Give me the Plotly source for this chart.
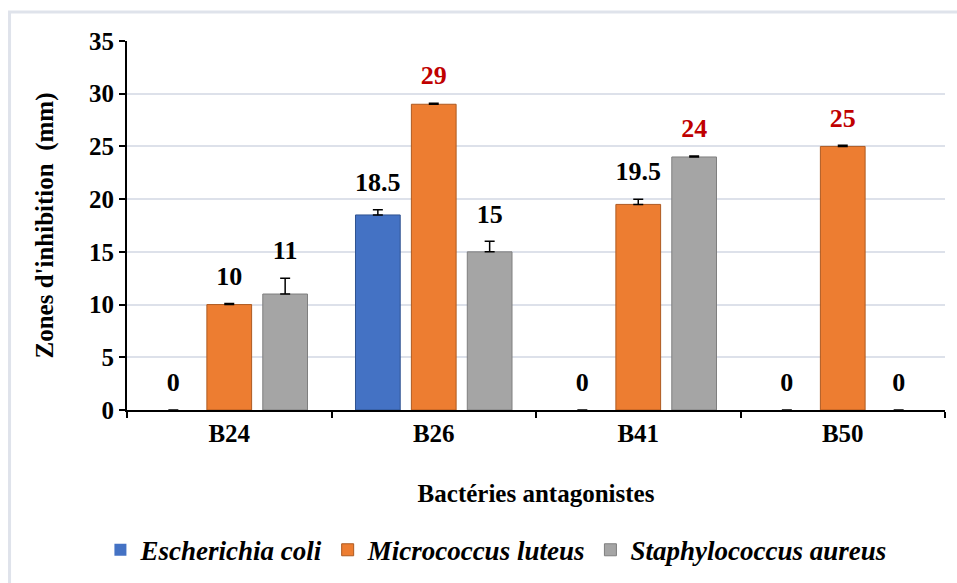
import plotly.graph_objects as go

categories = ["B24", "B26", "B41", "B50"]
series_names = ["Escherichia coli", "Micrococcus luteus", "Staphylococcus aureus"]
ecoli = [0, 18.5, 0, 0]
mluteus = [10, 29, 19.5, 25]
saureus = [11, 15, 24, 0]
ecoli_err = [0, 0.5, 0, 0]
mluteus_err = [0.1, 0.1, 0.5, 0.1]
saureus_err = [1.5, 1.0, 0.1, 0]
label_texts = [
    ["0", "18.5", "0", "0"],
    ["10", "29", "19.5", "25"],
    ["11", "15", "24", "0"],
]
highlight = [
    [False, False, False, False],
    [False, True, False, True],
    [False, False, True, False],
]

colors = ["#4472C4", "#ED7D31", "#A5A5A5"]
edge = ["#2F528F", "#AE5A21", "#7F7F7F"]
font_fam = "Liberation Serif, Times New Roman, serif"

values = [ecoli, mluteus, saureus]
errs = [ecoli_err, mluteus_err, saureus_err]

fig = go.Figure()
for i in range(3):
    fig.add_trace(go.Bar(
        x=categories, y=values[i], name=series_names[i],
        offsetgroup=str(i), legendgroup=str(i),
        marker=dict(color=colors[i],
                    line=dict(color=edge[i], width=[0 if v == 0 else 1 for v in values[i]])),
        error_y=dict(type="data", array=errs[i], arrayminus=[0]*4, symmetric=False,
                     visible=True, color="black", thickness=1.5, width=5),
    ))
for i in range(3):
    ys = [v + e for v, e in zip(values[i], errs[i])]
    fig.add_trace(go.Scatter(
        x=categories, y=ys, mode="markers+text", text=label_texts[i],
        marker=dict(size=18, opacity=0),
        textposition="top center", offsetgroup=str(i), legendgroup=str(i),
        showlegend=False, hoverinfo="skip", cliponaxis=False,
        textfont=dict(family=font_fam, size=26, weight="bold",
                      color=["#C00000" if h else "black" for h in highlight[i]]),
    ))

fig.update_layout(
    width=957, height=583,
    barmode="group", scattermode="group",
    bargap=0.18, bargroupgap=0.2, scattergap=0.18,
    plot_bgcolor="white", paper_bgcolor="white",
    margin=dict(l=127, r=12, t=41, b=173, autoexpand=False),
    font=dict(family=font_fam, color="black"),
    xaxis=dict(
        automargin=False,
        showline=True, linecolor="black", linewidth=2,
        ticks="outside", tickson="boundaries", ticklen=6, tickwidth=1.5, tickcolor="black",
        tickfont=dict(size=25, weight="bold"),
        title=dict(text="Bactéries antagonistes", font=dict(size=25, weight="bold"), standoff=38),
    ),
    yaxis=dict(
        automargin=False,
        range=[0, 35], dtick=5, showline=True, linecolor="black", linewidth=2,
        ticks="outside", ticklen=6, tickwidth=1.5, tickcolor="black",
        showgrid=True, gridcolor="#DDE1EA", gridwidth=1.5, zeroline=False,
        tickfont=dict(size=25, weight="bold"),
        title=dict(text="Zones d'inhibition  (mm)", font=dict(size=25, weight="bold"), standoff=28),
    ),
    legend=dict(
        orientation="h", x=0.451, xanchor="center", y=-0.38, yanchor="middle",
        font=dict(size=27, style="italic", weight="bold"),
        itemwidth=30, traceorder="normal",
    ),
    showlegend=True,
    shapes=[dict(type="rect", xref="paper", yref="paper",
                 x0=-0.1436, x1=1.2, y0=-0.8, y1=1.0786,
                 line=dict(color="#DFE3EB", width=3), fillcolor="rgba(0,0,0,0)", layer="below")],
)

fig.write_html("out.html", config={"displayModeBar": False},
               post_script="document.body.style.margin='0';")
